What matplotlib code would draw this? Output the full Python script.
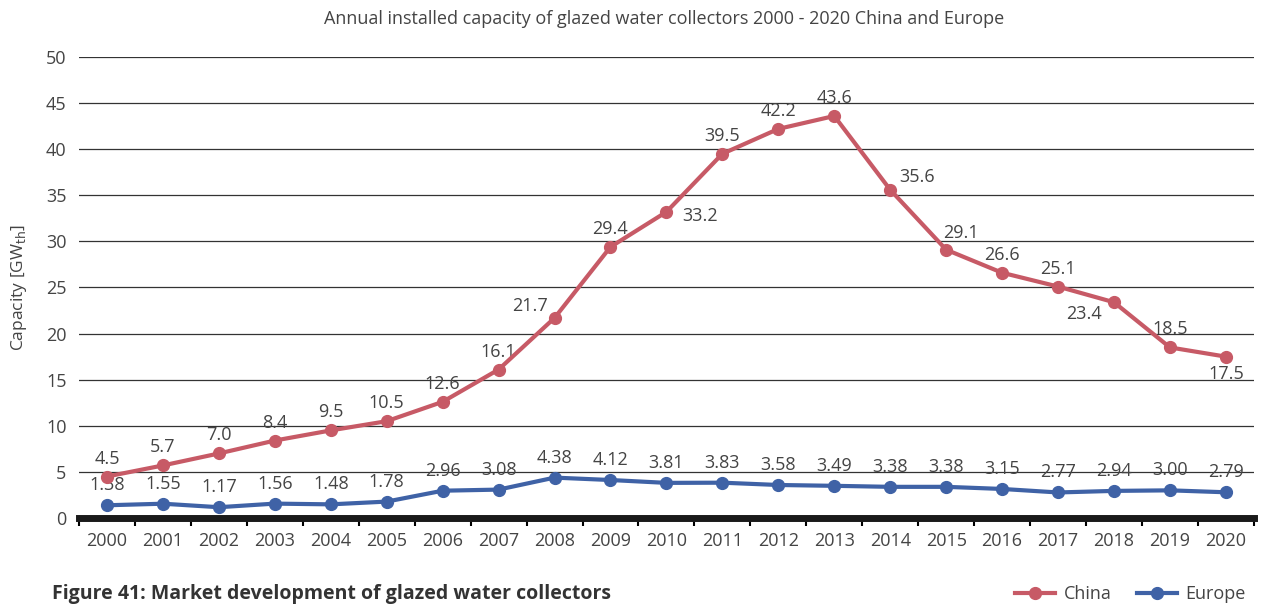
import matplotlib.pyplot as plt
import numpy as np

plt.rcParams["font.family"] = ["Open Sans", "DejaVu Sans"]

years = [str(y) for y in range(2000, 2021)]
china = [4.5, 5.7, 7.0, 8.4, 9.5, 10.5, 12.6, 16.1, 21.7, 29.4, 33.2,
         39.5, 42.2, 43.6, 35.6, 29.1, 26.6, 25.1, 23.4, 18.5, 17.5]
europe = [1.38, 1.55, 1.17, 1.56, 1.48, 1.78, 2.96, 3.08, 4.38, 4.12, 3.81,
          3.83, 3.58, 3.49, 3.38, 3.38, 3.15, 2.77, 2.94, 3.00, 2.79]
china_labels = ["4.5", "5.7", "7.0", "8.4", "9.5", "10.5", "12.6", "16.1", "21.7",
                "29.4", "33.2", "39.5", "42.2", "43.6", "35.6", "29.1", "26.6",
                "25.1", "23.4", "18.5", "17.5"]
europe_labels = ["1.38", "1.55", "1.17", "1.56", "1.48", "1.78", "2.96", "3.08",
                 "4.38", "4.12", "3.81", "3.83", "3.58", "3.49", "3.38", "3.38",
                 "3.15", "2.77", "2.94", "3.00", "2.79"]

RED = "#C75A66"
BLUE = "#3F62A6"
TXT = "#444444"

# label offsets in pixels for China (default: above)
offsets = {8: (-25, 12), 10: (34, -4), 14: (27, 13), 15: (15, 17),
           18: (-30, -12), 20: (0, -17)}

fig = plt.figure(figsize=(12.66, 6.05), dpi=100)
ax = fig.add_axes([0.0624, 0.1438, 0.928, 0.762])

x = np.arange(len(years))
ax.plot(x, china, color=RED, lw=3, marker="o", ms=8.5, label="China", zorder=4)
ax.plot(x, europe, color=BLUE, lw=3, marker="o", ms=8.5, label="Europe", zorder=4)

for i in x:
    dx, dy = offsets.get(i, (0, 18))
    ax.annotate(china_labels[i], (i, china[i]), xytext=(dx, dy),
                textcoords="offset pixels", ha="center", va="center",
                fontsize=13, color=TXT)
    ax.annotate(europe_labels[i], (i, europe[i]), xytext=(0, 20),
                textcoords="offset pixels", ha="center", va="center",
                fontsize=13, color=TXT)

ax.set_xlim(-0.5, 20.5)
ax.set_ylim(0, 50)
ax.set_yticks(range(0, 51, 5))
ax.set_xticks(x)
ax.set_xticklabels(years)
ax.set_xticks(np.arange(-0.5, 21, 1), minor=True)
ax.tick_params(axis="x", which="major", length=0, pad=10, labelsize=13, labelcolor=TXT)
ax.tick_params(axis="x", which="minor", length=6, width=1.5, color="black")
ax.tick_params(axis="y", length=0, pad=9, labelsize=13, labelcolor=TXT)
ax.grid(axis="y", color="#333333", lw=0.9)
ax.set_axisbelow(True)
for s in ["top", "right", "left"]:
    ax.spines[s].set_visible(False)
ax.spines["bottom"].set_linewidth(5)
ax.spines["bottom"].set_color("#1a1a1a")

ax.set_ylabel("Capacity [GW$_{\\mathrm{th}}$]", fontsize=12.5, color=TXT, labelpad=12)
fig.text(0.5245, 0.968, "Annual installed capacity of glazed water collectors 2000 - 2020 China and Europe",
         ha="center", va="center", fontsize=13, color=TXT)
fig.text(0.041, 0.018, "Figure 41: Market development of glazed water collectors",
         ha="left", va="center", fontsize=14, fontweight="bold", color="#333333")

leg = fig.legend(loc="center right", bbox_to_anchor=(0.997, 0.018), ncol=2, frameon=False,
                 fontsize=13, handlelength=2.2, columnspacing=1.4, handletextpad=0.5)
for t in leg.get_texts():
    t.set_color(TXT)

fig.savefig("out.png", dpi=100)
